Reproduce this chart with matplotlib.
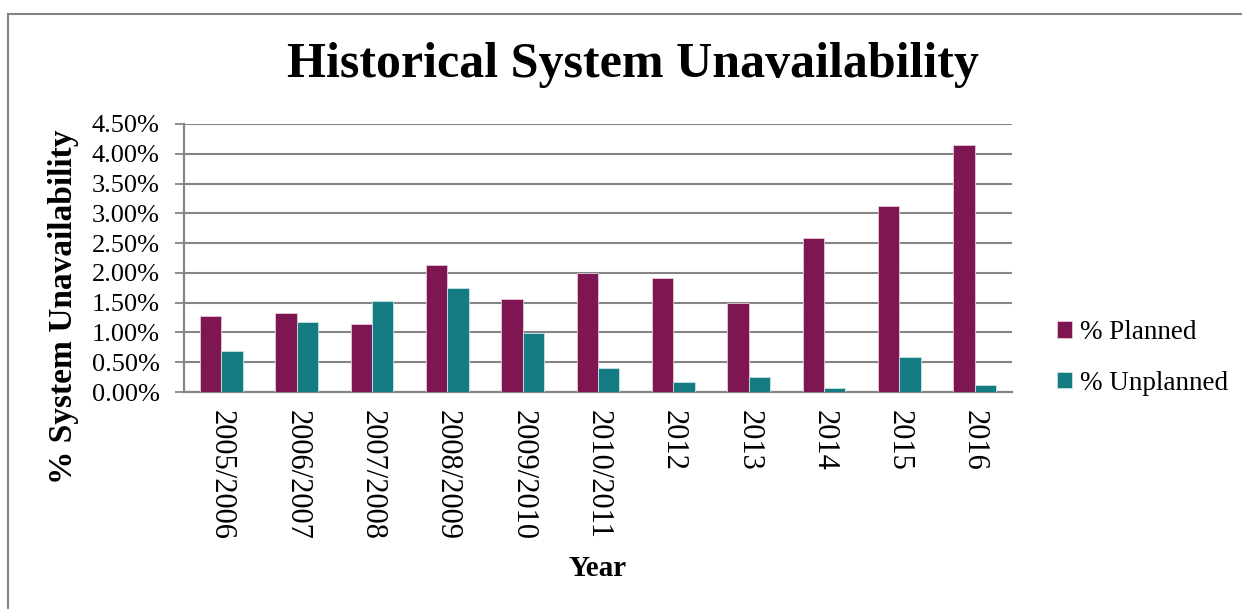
import numpy as np
import matplotlib
matplotlib.use("Agg")
from matplotlib import pyplot as plt
from matplotlib.ticker import FuncFormatter

# Daten
jahre = ["2005/2006", "2006/2007", "2007/2008", "2008/2009", "2009/2010",
         "2010/2011", "2012", "2013", "2014", "2015", "2016"]
geplant = [1.27, 1.33, 1.15, 2.13, 1.57, 2.00, 1.91, 1.49, 2.58, 3.12, 4.14]
ungeplant = [0.69, 1.17, 1.52, 1.75, 0.99, 0.40, 0.17, 0.26, 0.07, 0.58, 0.11]

farbe_geplant = "#7E1751"
farbe_ungeplant = "#167C84"
grau = "#858585"

plt.rcParams['font.family'] = ['Liberation Serif', 'DejaVu Serif']

fig = plt.figure(figsize=(12.42, 6.09), dpi=100)
ax = fig.add_axes([0.148, 0.3563, 0.667, 0.4401])

x = np.arange(len(jahre))
b = 0.283
ax.bar(x - b / 2, geplant, b, color=farbe_geplant, edgecolor="#E8C8D8", linewidth=0.6,
       label="% Planned", zorder=3)
ax.bar(x + b / 2, ungeplant, b, color=farbe_ungeplant, edgecolor="#C8E4E6", linewidth=0.6,
       label="% Unplanned", zorder=3)

ax.set_xlim(-0.5, len(jahre) - 0.5)
ax.set_ylim(0, 4.5)
ax.set_yticks(np.arange(0, 4.51, 0.5))
ax.yaxis.set_major_formatter(FuncFormatter(lambda v, p: f"{v:.2f}%"))
ax.yaxis.grid(True, color=grau, linewidth=1.5, zorder=0)
ax.set_axisbelow(True)

ax.set_xticks(x)
ax.set_xticklabels(jahre, rotation=-90, fontsize=22)
ax.tick_params(axis="x", length=0, pad=13)
ax.tick_params(axis="y", length=6.5, width=1.3, color=grau, pad=11, labelsize=19)

for s in ["top", "right"]:
    ax.spines[s].set_visible(False)
for s in ["left", "bottom"]:
    ax.spines[s].set_color(grau)
    ax.spines[s].set_linewidth(1.6)

# Titel und Achsenbeschriftungen
fig.text(633 / 1242, 1 - 65 / 609, "Historical System Unavailability",
         fontsize=36, fontweight="bold", ha="center", va="center")
fig.text(64 / 1242, 1 - 307 / 609, "% System Unavailability", rotation=90,
         fontsize=24, fontweight="bold", ha="center", va="center")
fig.text(598 / 1242, 1 - 568 / 609, "Year", fontsize=21, fontweight="bold",
         ha="center", va="center")

# Legende
ax.legend(loc="center left", bbox_to_anchor=(1033 / 1242, 1 - 358 / 609),
          bbox_transform=fig.transFigure, frameon=False, fontsize=19.5,
          handlelength=0.55, handleheight=0.55, handletextpad=0.3, labelspacing=0.95)

# Rahmen um das Diagramm
fig.add_artist(plt.Line2D([8 / 1242, 8 / 1242], [0, 1 - 14 / 609], color=grau, lw=1.5))
fig.add_artist(plt.Line2D([8 / 1242, 1], [1 - 14 / 609, 1 - 14 / 609], color=grau, lw=1.5))

fig.savefig("out.png", dpi=100)
